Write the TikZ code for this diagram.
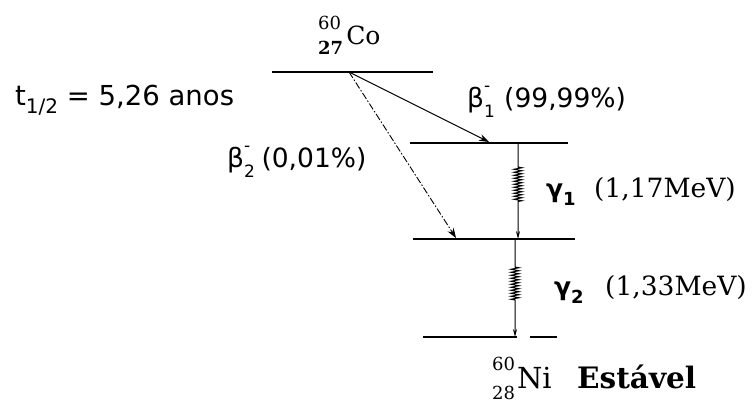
\documentclass[tikz,border=0pt]{standalone}
\usepackage{fontspec}
\setmainfont{DejaVu Serif}
\newfontfamily\lab{DejaVu Sans}
\usetikzlibrary{arrows.meta,decorations.pathmorphing}
\newcommand{\stk}[2]{\rlap{\raisebox{1.05ex}{\fontsize{17}{17}\selectfont #1}}\raisebox{-0.75ex}{\fontsize{17}{17}\selectfont #2}}
\newcommand{\nuc}[2]{\rlap{\raisebox{0.62em}{\fontsize{18}{18}\selectfont #1}}\raisebox{-0.38em}{\fontsize{18}{18}\selectfont #2}}
\begin{document}
\begin{tikzpicture}[x=1pt,y=-1pt,
  level/.style={line width=1.6pt},
  betaarrow/.style={line width=1pt,-{Stealth[length=10pt,width=7pt]}},
  gamline/.style={line width=1pt,-{Stealth[length=8pt,width=4pt]},
     decoration={zigzag,segment length=3pt,amplitude=4pt,pre length=24pt,post length=37pt},decorate},
  sanslab/.style={font=\lab\fontsize{26.5}{30}\selectfont, inner sep=0pt},
  serlab/.style={font=\fontsize{26.5}{30}\selectfont, inner sep=0pt}]
\useasboundingbox (0,0) rectangle (752,404);
% levels
\coordinate (L0a) at (272,72); \coordinate (L0b) at (433,72);
\coordinate (L1a) at (410,143); \coordinate (L1b) at (568,143);
\coordinate (L2a) at (413,239); \coordinate (L2b) at (575,239);
\coordinate (L3a) at (423,337); \coordinate (L3b) at (517,337);
\coordinate (L3c) at (530,337); \coordinate (L3d) at (557,337);
\draw[level] (L0a) -- (L0b);
\draw[level] (L1a) -- (L1b);
\draw[level] (L2a) -- (L2b);
\draw[level] (L3a) -- (L3b);
\draw[level] (L3c) -- (L3d);
% beta transitions
\coordinate (src) at (349,72);
\coordinate (b1) at (489,142);
\coordinate (b2) at (456,238);
\draw[betaarrow] (src) -- (b1);
\draw[betaarrow, line width=0.9pt, dash pattern=on 7pt off 2pt on 1.5pt off 2pt] (src) -- (b2);
% gamma transitions
\coordinate (g1a) at (518,143); \coordinate (g1b) at (518,239);
\coordinate (g2a) at (515,239); \coordinate (g2b) at (515,337);
\draw[gamline] (g1a) -- (g1b);
\draw[gamline, decoration={pre length=28pt,post length=37pt}] (g2a) -- (g2b);
% labels
\node[anchor=base west, inner sep=0pt, font=\fontsize{25}{28}\selectfont] (co) at (318,45)
  {\nuc{60}{\textbf{27}}\hspace{3pt}Co};
\node[anchor=base west, inner sep=0pt, font=\lab\fontsize{27.5}{30}\selectfont] (thalf) at (15,105)
  {t\raisebox{-0.55ex}{\fontsize{20}{20}\selectfont 1/2} = 5,26 anos};
\node[sanslab, anchor=base west] (beta1) at (467,107)
  {β\stk{-}{1}\hspace{0.35em}(99,99\%)};
\node[sanslab, anchor=base west] (beta2) at (227,167)
  {β\stk{-}{2}\hspace{0.25em}(0,01\%)};
\node[anchor=base west, inner sep=0pt, font=\lab\bfseries\fontsize{25}{28}\selectfont] (gam1) at (546,197)
  {γ\raisebox{-0.6ex}{\fontsize{18}{18}\selectfont 1}};
\node[serlab, anchor=base west] (e1) at (594,197) {(1,17MeV)};
\node[anchor=base west, inner sep=0pt, font=\lab\bfseries\fontsize{25}{28}\selectfont] (gam2) at (554,295)
  {γ\raisebox{-0.6ex}{\fontsize{18}{18}\selectfont 2}};
\node[serlab, anchor=base west] (e2) at (605,295) {(1,33MeV)};
\node[anchor=base west, inner sep=0pt, font=\fontsize{29}{32}\selectfont] (ni) at (492,388)
  {\nuc{60}{28}\hspace{2pt}Ni};
\node[anchor=base west, inner sep=0pt, font=\bfseries\fontsize{29.5}{32}\selectfont] (est) at (577,388)
  {Estável};
\end{tikzpicture}
\end{document}
